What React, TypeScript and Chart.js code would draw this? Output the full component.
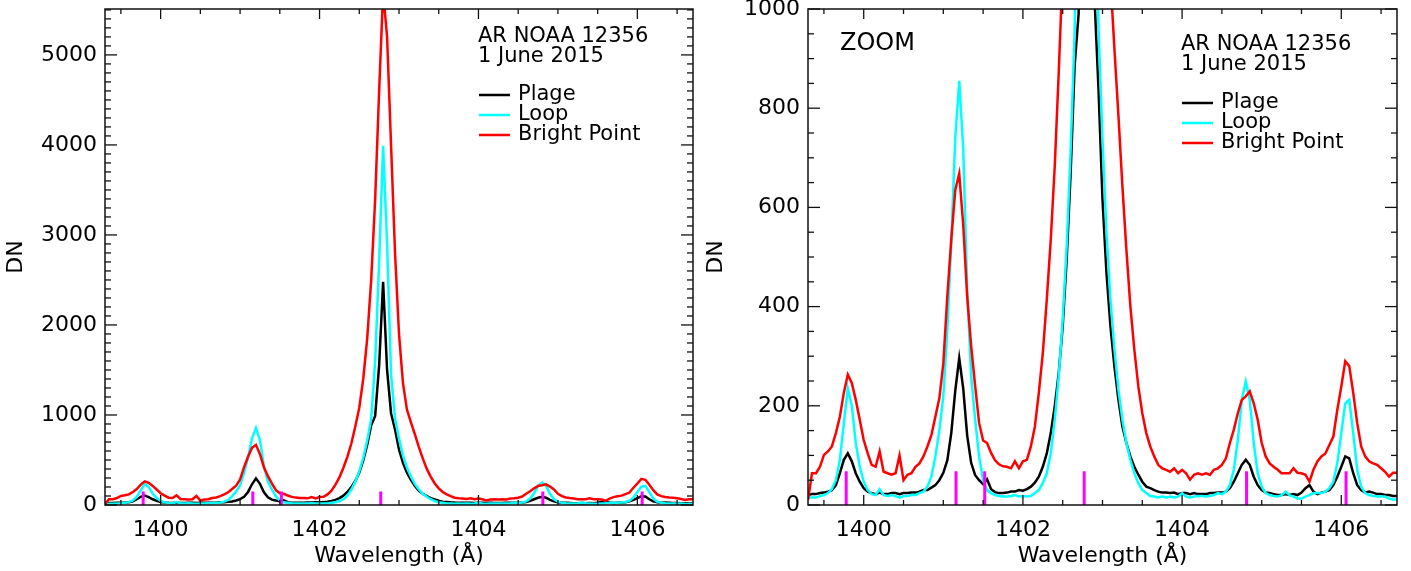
import React, { useEffect, useRef } from 'react';
import { Chart, registerables } from 'chart.js';

Chart.register(...registerables);

const FONT = '"DejaVu Sans", "Liberation Sans", sans-serif';

// Sampling grid (Å)
const wavelengths = [
  1399.30, 1399.35, 1399.40, 1399.45, 1399.50, 1399.55, 1399.60, 1399.65, 1399.70, 1399.75,
  1399.80, 1399.85, 1399.90, 1399.95, 1400.00, 1400.05, 1400.10, 1400.15, 1400.20, 1400.25,
  1400.30, 1400.35, 1400.40, 1400.45, 1400.50, 1400.55, 1400.60, 1400.65, 1400.70, 1400.75,
  1400.80, 1400.85, 1400.90, 1400.95, 1401.00, 1401.05, 1401.10, 1401.15, 1401.20, 1401.25,
  1401.30, 1401.35, 1401.40, 1401.45, 1401.50, 1401.55, 1401.60, 1401.65, 1401.70, 1401.75,
  1401.80, 1401.85, 1401.90, 1401.95, 1402.00, 1402.05, 1402.10, 1402.15, 1402.20, 1402.25,
  1402.30, 1402.35, 1402.40, 1402.45, 1402.50, 1402.55, 1402.60, 1402.65, 1402.70, 1402.75,
  1402.80, 1402.85, 1402.90, 1402.95, 1403.00, 1403.05, 1403.10, 1403.15, 1403.20, 1403.25,
  1403.30, 1403.35, 1403.40, 1403.45, 1403.50, 1403.55, 1403.60, 1403.65, 1403.70, 1403.75,
  1403.80, 1403.85, 1403.90, 1403.95, 1404.00, 1404.05, 1404.10, 1404.15, 1404.20, 1404.25,
  1404.30, 1404.35, 1404.40, 1404.45, 1404.50, 1404.55, 1404.60, 1404.65, 1404.70, 1404.75,
  1404.80, 1404.85, 1404.90, 1404.95, 1405.00, 1405.05, 1405.10, 1405.15, 1405.20, 1405.25,
  1405.30, 1405.35, 1405.40, 1405.45, 1405.50, 1405.55, 1405.60, 1405.65, 1405.70, 1405.75,
  1405.80, 1405.85, 1405.90, 1405.95, 1406.00, 1406.05, 1406.10, 1406.15, 1406.20, 1406.25,
  1406.30, 1406.35, 1406.40, 1406.45, 1406.50, 1406.55, 1406.60, 1406.65, 1406.70,
];

const plage = [
  20, 22, 22, 24, 25, 27, 30, 40, 64, 91,
  104, 88, 64, 47, 34, 27, 24, 22, 25, 22,
  22, 24, 24, 22, 24, 24, 25, 25, 27, 30,
  30, 35, 40, 50, 65, 90, 145, 230, 296, 235,
  140, 85, 60, 50, 42, 52, 32, 26, 24, 24,
  25, 27, 27, 30, 29, 32, 37, 45, 57, 77,
  104, 145, 199, 266, 360, 495, 670, 886, 990, 1550,
  2480, 1500, 1020, 838, 616, 468, 360, 279, 212, 158,
  125, 98, 77, 61, 47, 37, 34, 30, 27, 25,
  25, 24, 25, 22, 24, 24, 22, 24, 22, 22,
  22, 24, 24, 25, 25, 27, 34, 47, 64, 81,
  91, 81, 57, 40, 30, 25, 24, 22, 20, 20,
  22, 20, 22, 20, 25, 34, 40, 27, 22, 25,
  27, 30, 40, 57, 77, 98, 94, 64, 40, 30,
  25, 27, 25, 22, 22, 20, 20, 18, 18,
];

const loop = [
  15, 15, 15, 18, 20, 24, 32, 50, 90, 165,
  235, 200, 125, 77, 47, 30, 22, 20, 32, 20,
  18, 20, 18, 15, 18, 18, 20, 20, 24, 27,
  37, 57, 98, 150, 219, 353, 530, 740, 855, 720,
  434, 260, 172, 98, 50, 30, 24, 20, 18, 17,
  17, 18, 20, 17, 18, 17, 18, 24, 30, 44,
  64, 104, 172, 259, 374, 522, 717, 953, 1600, 2700,
  3990, 2900, 1450, 960, 737, 549, 414, 313, 232, 172,
  125, 91, 64, 44, 30, 24, 18, 17, 15, 17,
  15, 17, 15, 17, 24, 17, 15, 17, 18, 18,
  17, 18, 20, 24, 22, 27, 40, 71, 131, 212,
  249, 212, 125, 64, 37, 24, 20, 18, 17, 20,
  27, 20, 17, 13, 13, 17, 20, 24, 24, 24,
  27, 34, 47, 84, 145, 205, 212, 145, 71, 37,
  24, 20, 18, 17, 17, 17, 13, 11, 11,
];

const brightPoint = [
  10, 64, 64, 77, 101, 108, 118, 145, 178, 226,
  263, 246, 212, 172, 131, 104, 81, 77, 108, 67,
  64, 61, 64, 100, 50, 61, 64, 77, 84, 98,
  118, 141, 178, 215, 285, 420, 535, 635, 668, 565,
  420, 320, 240, 165, 130, 125, 105, 90, 82, 78,
  77, 74, 88, 74, 88, 91, 118, 158, 226, 306,
  414, 535, 683, 872, 1080, 1400, 1850, 2500, 3400, 4600,
  5700, 5200, 4000, 2800, 1900, 1350, 1060, 919, 785, 643,
  515, 401, 313, 239, 185, 145, 118, 98, 81, 74,
  71, 67, 74, 64, 71, 64, 51, 61, 64, 61,
  64, 61, 71, 74, 81, 94, 125, 152, 185, 212,
  219, 229, 205, 172, 125, 98, 84, 77, 71, 64,
  64, 64, 74, 65, 64, 61, 47, 71, 88, 98,
  104, 121, 138, 192, 239, 290, 280, 226, 165, 118,
  98, 88, 84, 81, 74, 67, 57, 65, 65,
];

// Rest wavelengths of the marked lines (Å)
const lineCenters = [1399.78, 1401.16, 1401.52, 1402.77, 1404.81, 1406.06];

const xTickValues = [1400, 1402, 1404, 1406];
const fullYTicks = [0, 1000, 2000, 3000, 4000, 5000];
const zoomYTicks = [0, 200, 400, 600, 800, 1000];
const seriesNames = ['Plage', 'Loop', 'Bright Point'];
const seriesColors = ['#000000', '#00ffff', '#ff0000'];
const headerLines = ['AR NOAA 12356', '1 June 2015'];

if (plage.length !== wavelengths.length || loop.length !== wavelengths.length || brightPoint.length !== wavelengths.length) {
  throw new Error('length mismatch ' + wavelengths.length + ' ' + plage.length + ' ' + loop.length + ' ' + brightPoint.length);
}

type PanelCfg = {
  width: number;
  yMax: number;
  yTicks: number[];
  yMinorStep: number;
  markerTop: number;
  yAxisWidth: number;
  padRight: number;
  textX: number;
  textY: number;
  zoomLabel: boolean;
};

const frameAndText = {
  id: 'frameAndText',
  afterDatasetsDraw(chart: any, _args: any, opts: any) {
    const { ctx, chartArea: a, scales } = chart;
    const xs = scales.x;
    const ys = scales.y;
    ctx.save();
    ctx.strokeStyle = '#111';
    ctx.lineWidth = 1.5;
    ctx.strokeRect(a.left, a.top, a.right - a.left, a.bottom - a.top);
    const seg = (x1: number, y1: number, x2: number, y2: number) => {
      ctx.beginPath();
      ctx.moveTo(x1, y1);
      ctx.lineTo(x2, y2);
      ctx.stroke();
    };
    ctx.lineWidth = 1.3;
    // x ticks every 0.5 Å, major every 2 Å
    const i0 = Math.ceil(xs.min * 2);
    const i1 = Math.floor(xs.max * 2);
    for (let i = i0; i <= i1; i++) {
      const v = i / 2;
      const px = xs.getPixelForValue(v);
      const major = i % 4 === 0;
      const len = major ? 10 : 5;
      seg(px, a.bottom, px, a.bottom - len);
      seg(px, a.top, px, a.top + len);
    }
    // y ticks
    const step = opts.yMinorStep;
    const majorStep = opts.yTicks[1] - opts.yTicks[0];
    const n = Math.floor(ys.max / step + 1e-6);
    for (let k = 0; k <= n; k++) {
      const v = k * step;
      const py = ys.getPixelForValue(v);
      const major = Math.abs(v / majorStep - Math.round(v / majorStep)) < 1e-6;
      const len = major ? 12 : 6;
      seg(a.left, py, a.left + len, py);
      seg(a.right, py, a.right - len, py);
    }
    // header and legend
    ctx.fillStyle = '#000';
    ctx.textAlign = 'left';
    ctx.textBaseline = 'alphabetic';
    ctx.font = '21px ' + FONT;
    const tx = opts.textX;
    const ty = opts.textY;
    ctx.fillText(headerLines[0], tx, ty);
    ctx.fillText(headerLines[1], tx, ty + 20);
    for (let s = 0; s < seriesNames.length; s++) {
      const by = ty + 58 + s * 20;
      ctx.strokeStyle = seriesColors[s];
      ctx.lineWidth = 2.5;
      seg(tx + 1, by - 5, tx + 32, by - 5);
      ctx.fillText(seriesNames[s], tx + 40, by);
    }
    if (opts.zoomLabel) {
      ctx.font = '24px ' + FONT;
      ctx.fillText('ZOOM', a.left + 32, 50);
    }
    ctx.restore();
  },
};

function buildConfig(p: PanelCfg) {
  const pts = (vals: number[]) => wavelengths.map((x, i) => ({ x, y: vals[i] }));
  const markerSets = lineCenters.map((c) => ({
    data: [{ x: c, y: 0 }, { x: c, y: p.markerTop }],
    borderColor: '#ff00ff',
    borderWidth: 3,
    pointRadius: 0,
    tension: 0,
    fill: false,
    order: 0,
    borderCapStyle: 'butt',
  }));
  const series = [
    { label: seriesNames[2], data: pts(brightPoint), borderColor: seriesColors[2], order: 1 },
    { label: seriesNames[1], data: pts(loop), borderColor: seriesColors[1], order: 2 },
    { label: seriesNames[0], data: pts(plage), borderColor: seriesColors[0], order: 3 },
  ].map((d) => ({ ...d, borderWidth: 2.5, pointRadius: 0, tension: 0, fill: false }));

  return {
    type: 'line',
    data: { datasets: [...markerSets, ...series] },
    plugins: [frameAndText],
    options: {
      animation: false,
      responsive: false,
      devicePixelRatio: 1,
      layout: { padding: { left: 0, top: 9, right: p.padRight, bottom: 0 } },
      plugins: {
        legend: { display: false },
        tooltip: { enabled: false },
        frameAndText: {
          yMinorStep: p.yMinorStep,
          yTicks: p.yTicks,
          textX: p.textX,
          textY: p.textY,
          zoomLabel: p.zoomLabel,
        },
      },
      scales: {
        x: {
          type: 'linear',
          min: 1399.3,
          max: 1406.7,
          grid: { display: false, drawTicks: false },
          border: { display: false },
          afterBuildTicks: (s: any) => {
            s.ticks = xTickValues.map((v) => ({ value: v }));
          },
          afterFit: (s: any) => {
            s.height = 66;
            s.paddingLeft = 0;
            s.paddingRight = 0;
          },
          ticks: {
            font: { family: FONT, size: 22 },
            color: '#000',
            padding: 12,
            maxRotation: 0,
            autoSkip: false,
            callback: (v: any) => String(v),
          },
          title: {
            display: true,
            text: 'Wavelength (Å)',
            font: { family: FONT, size: 22 },
            color: '#000',
            padding: { top: 0, bottom: 2 },
          },
        },
        y: {
          type: 'linear',
          min: 0,
          max: p.yMax,
          grid: { display: false, drawTicks: false },
          border: { display: false },
          afterBuildTicks: (s: any) => {
            s.ticks = p.yTicks.map((v) => ({ value: v }));
          },
          afterFit: (s: any) => {
            s.width = p.yAxisWidth;
            s.paddingTop = 0;
            s.paddingBottom = 0;
          },
          ticks: {
            font: { family: FONT, size: 22 },
            color: '#000',
            padding: 8,
            autoSkip: false,
            callback: (v: any) => String(v),
          },
          title: {
            display: true,
            text: 'DN',
            font: { family: FONT, size: 22 },
            color: '#000',
            padding: { top: 3, bottom: 0 },
          },
        },
      },
    },
  };
}

function Panel({ cfg, left }: { cfg: PanelCfg; left: number }) {
  const ref = useRef<HTMLCanvasElement>(null);
  useEffect(() => {
    const chart = new Chart(ref.current as HTMLCanvasElement, buildConfig(cfg) as any);
    return () => chart.destroy();
  }, []);
  return (
    <canvas
      ref={ref}
      width={cfg.width}
      height={571}
      style={{ position: 'absolute', left, top: 0, width: cfg.width, height: 571, display: 'block' }}
    />
  );
}

const leftPanel: PanelCfg = {
  width: 700,
  yMax: 5510,
  yTicks: fullYTicks,
  yMinorStep: 100,
  markerTop: 150,
  yAxisWidth: 105,
  padRight: 7,
  textX: 478,
  textY: 42,
  zoomLabel: false,
};

const rightPanel: PanelCfg = {
  width: 711,
  yMax: 1000,
  yTicks: zoomYTicks,
  yMinorStep: 50,
  markerTop: 68,
  yAxisWidth: 108,
  padRight: 14,
  textX: 481,
  textY: 50,
  zoomLabel: true,
};

export default function App() {
  return (
    <div style={{ position: 'fixed', left: 0, top: 0, width: 1411, height: 571, background: '#fff', overflow: 'hidden' }}>
      <Panel cfg={leftPanel} left={0} />
      <Panel cfg={rightPanel} left={700} />
    </div>
  );
}
